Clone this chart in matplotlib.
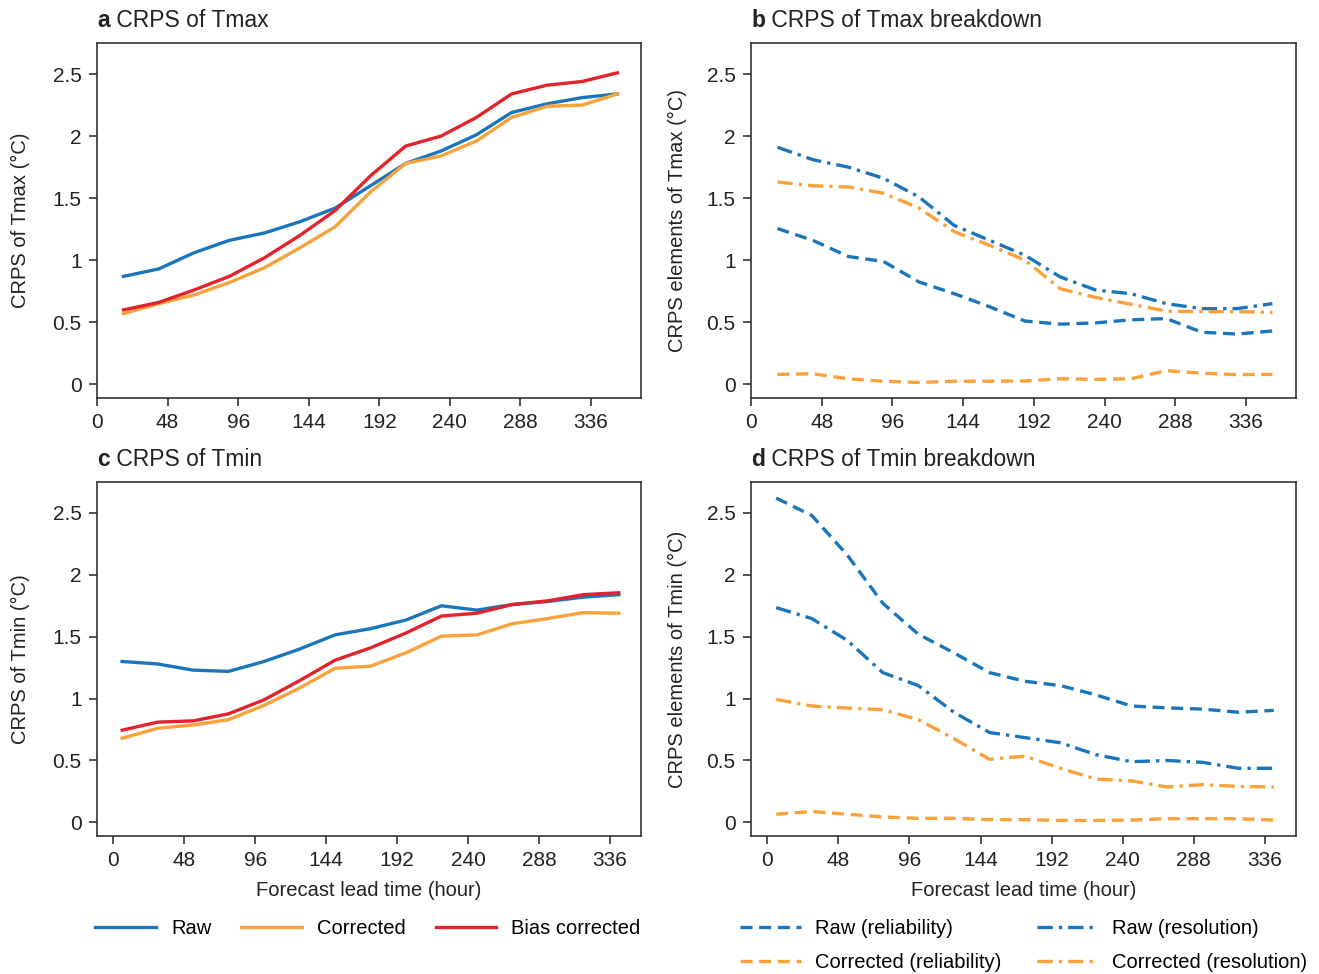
import matplotlib
matplotlib.use("Agg")
import matplotlib.pyplot as plt
from matplotlib.ticker import FuncFormatter

plt.rcParams['font.family'] = ['Liberation Sans', 'DejaVu Sans']

# lead times (hours)
hours_max = [18, 42, 66, 90, 114, 138, 162, 186, 210, 234, 258, 282, 306, 330, 354]
hours_min = [6, 30, 54, 78, 102, 126, 150, 174, 198, 222, 246, 270, 294, 318, 342]

# a: CRPS of Tmax
tmax_raw = [0.87, 0.93, 1.06, 1.16, 1.22, 1.31, 1.42, 1.60, 1.78, 1.88, 2.01, 2.19, 2.26, 2.31, 2.34]
tmax_corr = [0.57, 0.65, 0.72, 0.82, 0.94, 1.10, 1.27, 1.55, 1.78, 1.84, 1.96, 2.15, 2.24, 2.25, 2.34]
tmax_bias = [0.60, 0.66, 0.76, 0.87, 1.02, 1.20, 1.40, 1.68, 1.92, 2.00, 2.15, 2.34, 2.41, 2.44, 2.51]

# b: Tmax breakdown
tmax_raw_rel = [1.255, 1.16, 1.03, 0.99, 0.825, 0.73, 0.625, 0.51, 0.485, 0.495, 0.52, 0.53, 0.42, 0.405, 0.43]
tmax_raw_res = [1.91, 1.81, 1.75, 1.66, 1.51, 1.28, 1.16, 1.04, 0.865, 0.76, 0.73, 0.65, 0.61, 0.61, 0.65]
tmax_corr_rel = [0.08, 0.085, 0.045, 0.025, 0.015, 0.025, 0.025, 0.027, 0.045, 0.04, 0.045, 0.11, 0.09, 0.078, 0.08]
tmax_corr_res = [1.63, 1.60, 1.59, 1.54, 1.42, 1.23, 1.12, 1.00, 0.77, 0.70, 0.645, 0.59, 0.585, 0.585, 0.58]

# c: CRPS of Tmin
tmin_raw = [1.30, 1.28, 1.23, 1.22, 1.30, 1.40, 1.515, 1.565, 1.635, 1.75, 1.715, 1.76, 1.785, 1.82, 1.84]
tmin_corr = [0.68, 0.76, 0.787, 0.83, 0.945, 1.085, 1.245, 1.262, 1.37, 1.505, 1.515, 1.605, 1.647, 1.695, 1.69]
tmin_bias = [0.745, 0.81, 0.82, 0.877, 0.99, 1.145, 1.31, 1.41, 1.53, 1.667, 1.69, 1.76, 1.79, 1.84, 1.855]

# d: Tmin breakdown
tmin_raw_rel = [2.62, 2.48, 2.16, 1.77, 1.52, 1.37, 1.21, 1.14, 1.105, 1.03, 0.94, 0.925, 0.915, 0.89, 0.905]
tmin_raw_res = [1.735, 1.647, 1.47, 1.21, 1.105, 0.89, 0.726, 0.685, 0.643, 0.547, 0.49, 0.50, 0.485, 0.437, 0.437]
tmin_corr_rel = [0.066, 0.088, 0.066, 0.044, 0.033, 0.033, 0.022, 0.022, 0.016, 0.016, 0.019, 0.03, 0.03, 0.03, 0.019]
tmin_corr_res = [0.993, 0.94, 0.924, 0.91, 0.83, 0.677, 0.51, 0.535, 0.437, 0.35, 0.335, 0.286, 0.305, 0.29, 0.286]

xticks = [0, 48, 96, 144, 192, 240, 288, 336]
yticks = [0, 0.5, 1, 1.5, 2, 2.5]

BLUE = '#1b75bb'
ORANGE = '#f9a13a'
RED = '#e2232b'
LW = 2.4
DASH = (0, (3.6, 2.0))
DASHDOT = (0, (4.6, 1.8, 1.0, 1.8))

W, H = 1319, 974
fig = plt.figure(figsize=(W / 100, H / 100), dpi=100)


def make_ax(l, r, t, b):
    return fig.add_axes([l / W, 1 - b / H, (r - l) / W, (b - t) / H])


ax_a = make_ax(97, 641, 43, 398)
ax_b = make_ax(751, 1296, 43, 398)
ax_c = make_ax(97, 641, 482, 836)
ax_d = make_ax(751, 1296, 482, 836)

# panel a
ax_a.plot(hours_max, tmax_raw, color=BLUE, lw=LW, label='Raw')
ax_a.plot(hours_max, tmax_corr, color=ORANGE, lw=LW, label='Corrected')
ax_a.plot(hours_max, tmax_bias, color=RED, lw=LW, label='Bias corrected')

# panel b
ax_b.plot(hours_max, tmax_raw_rel, color=BLUE, lw=LW, ls=DASH)
ax_b.plot(hours_max, tmax_raw_res, color=BLUE, lw=LW, ls=DASHDOT)
ax_b.plot(hours_max, tmax_corr_rel, color=ORANGE, lw=LW, ls=DASH)
ax_b.plot(hours_max, tmax_corr_res, color=ORANGE, lw=LW, ls=DASHDOT)

# panel c
ax_c.plot(hours_min, tmin_raw, color=BLUE, lw=LW)
ax_c.plot(hours_min, tmin_corr, color=ORANGE, lw=LW)
ax_c.plot(hours_min, tmin_bias, color=RED, lw=LW)

# panel d
h1, = ax_d.plot(hours_min, tmin_raw_rel, color=BLUE, lw=LW, ls=DASH, label='Raw (reliability)')
h2, = ax_d.plot(hours_min, tmin_raw_res, color=BLUE, lw=LW, ls=DASHDOT, label='Raw (resolution)')
h3, = ax_d.plot(hours_min, tmin_corr_rel, color=ORANGE, lw=LW, ls=DASH, label='Corrected (reliability)')
h4, = ax_d.plot(hours_min, tmin_corr_res, color=ORANGE, lw=LW, ls=DASHDOT, label='Corrected (resolution)')

panels = [
    (ax_a, 'a', 'CRPS of Tmax', 'CRPS of Tmax (°C)', (0, 370), -0.123),
    (ax_b, 'b', 'CRPS of Tmax breakdown', 'CRPS elements of Tmax (°C)', (0, 370), -0.117),
    (ax_c, 'c', 'CRPS of Tmin', 'CRPS of Tmin (°C)', (-11, 357), -0.123),
    (ax_d, 'd', 'CRPS of Tmin breakdown', 'CRPS elements of Tmin (°C)', (-11, 357), -0.117),
]

for ax, letter, title, ylab, xlim, ylx in panels:
    ax.set_xlim(*xlim)
    ax.set_ylim(-0.11, 2.75)
    ax.set_xticks(xticks)
    ax.set_yticks(yticks)
    ax.yaxis.set_major_formatter(FuncFormatter(lambda v, p: '%g' % v))
    ax.tick_params(direction='out', length=6, width=1.2, labelsize=15, color='#333333',
                   labelcolor='#222222', pad=5)
    for s in ax.spines.values():
        s.set_linewidth(1.2)
        s.set_color('#333333')
    ax.set_ylabel(ylab, fontsize=14.5, color='#222222')
    ax.yaxis.set_label_coords(ylx, 0.5)
    t = ax.text(0, 1.044, letter, transform=ax.transAxes, fontsize=16.5,
                fontweight='bold', va='baseline', ha='left', color='#222222')
    ax.annotate(' ' + title, xy=(1, 0), xycoords=t, va='bottom', ha='left',
                fontsize=16.5, color='#222222')

for ax in (ax_c, ax_d):
    ax.set_xlabel('Forecast lead time (hour)', fontsize=14.5, color='#222222', labelpad=8)

fig.legend(handles=ax_a.get_lines(), loc='center', bbox_to_anchor=(0.279, 0.047),
           ncol=3, frameon=False, fontsize=14.5, handlelength=3.0, handletextpad=0.75,
           columnspacing=1.5)
fig.legend(handles=[h1, h3, h2, h4], loc='center', bbox_to_anchor=(0.776, 0.029),
           ncol=2, frameon=False, fontsize=14.5, handlelength=3.0, handletextpad=0.7,
           columnspacing=1.8, labelspacing=0.75)

fig.savefig('out.png', dpi=100)
